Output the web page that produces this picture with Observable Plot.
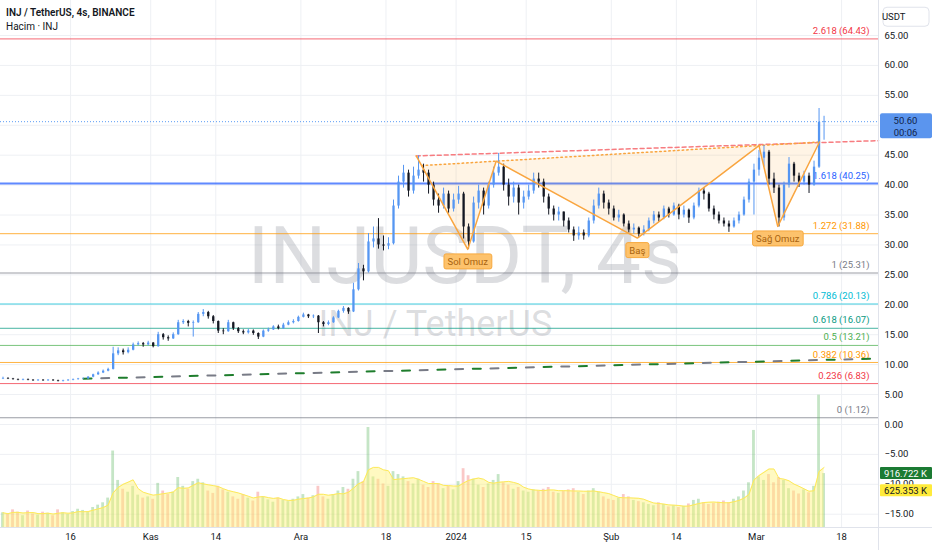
<!DOCTYPE html>
<html><head><meta charset="utf-8">
<script src="https://cdn.jsdelivr.net/npm/d3@7"></script>
<script src="https://cdn.jsdelivr.net/npm/@observablehq/plot@0.6"></script>
<style>
html,body{margin:0;padding:0;background:#fff;}
#wrap{position:relative;width:932px;height:550px;overflow:hidden;font-family:Roboto,"Noto Sans",sans-serif;background:#fff;}
#wrap svg{position:absolute;left:0;top:0;}
#hdr{position:absolute;left:6px;top:6px;font-size:10px;color:#131722;line-height:14px;z-index:5;}
.vsep{position:absolute;left:878px;top:0;width:1px;height:550px;background:#e0e3eb;z-index:4;}
.hsep{position:absolute;left:0;top:527px;width:932px;height:1px;background:#e0e3eb;z-index:4;}
</style></head><body>
<div id="wrap">
  <div id="hdr"><div style="font-weight:600">INJ / TetherUS, 4s, BINANCE</div><div>Hacim · INJ</div></div>
</div>
<script>
// ---------------- data ----------------
const startDate = "2023-10-02T00:00:00Z";
const xDomainEnd = "2024-03-25T09:00:00Z";
const firstOpen = 7.6;
const closes = [
7.7,7.6,7.5,7.4,7.5,7.4,7.3,7.4,7.3,7.4,
7.3,7.2,7.3,7.4,7.5,7.6,7.6,7.9,8.3,8.6,
8.9,9.2,11.8,12.3,12.0,12.4,13.3,13.5,13.3,13.6,
13.0,15.0,14.5,14.3,15.0,17.0,17.2,16.9,17.0,18.4,
18.7,18.0,17.2,15.6,15.5,17.0,16.0,15.5,15.3,15.6,
15.2,14.6,15.6,15.8,16.3,16.0,16.6,17.0,17.2,17.9,
18.3,18.0,18.1,17.0,16.7,17.0,17.8,18.9,19.4,18.8,
22.5,26.0,25.5,30.5,31.0,30.0,29.8,30.2,36.5,40.5,
42.0,39.0,41.5,42.5,42.0,40.0,37.5,36.5,38.5,36.0,
37.5,38.5,33.0,30.5,37.0,39.0,36.5,40.0,42.0,43.0,
40.0,38.0,39.5,37.0,38.0,39.0,41.0,40.5,38.0,36.0,
35.0,35.5,34.0,32.5,31.5,32.0,31.5,34.0,36.5,38.5,
37.0,36.0,34.5,35.0,33.5,32.5,32.8,31.8,32.5,34.0,
35.0,34.5,36.0,35.0,36.5,35.0,35.8,34.5,36.5,39.0,
38.5,36.0,35.0,34.0,33.5,33.0,34.0,35.0,37.5,40.5,
42.5,44.5,45.5,41.0,39.5,34.5,40.0,43.5,41.5,40.5,
41.5,40.0,43.0,50.5,50.6];
const highs = [
7.9,7.8,7.7,7.6,7.6,7.6,7.5,7.5,7.5,7.5,
7.5,7.4,7.4,7.5,7.6,7.7,7.8,8.0,8.4,8.8,
9.1,9.4,12.9,12.8,12.6,12.8,13.6,13.8,13.7,13.9,
13.7,15.4,15.2,14.8,15.3,17.4,17.5,17.4,17.3,18.7,
19.2,18.9,18.2,17.3,16.0,17.4,17.1,16.2,15.8,15.9,
15.8,15.3,15.8,16.1,16.5,16.6,16.9,17.3,17.5,18.1,
18.6,18.4,18.3,18.2,17.2,17.3,18.0,19.1,19.7,19.5,
23.6,26.9,26.6,31.9,33.0,34.4,31.5,31.2,37.5,41.5,
43.3,42.5,43.0,44.9,43.5,42.5,40.5,38.5,39.5,39.0,
38.5,39.8,38.8,33.5,38.0,40.0,39.5,40.5,43.0,45.3,
43.5,41.0,40.5,40.0,39.0,40.0,42.0,42.0,41.0,38.5,
36.5,36.3,35.5,34.5,33.0,33.0,32.5,34.5,37.5,39.5,
39.0,37.5,36.5,35.8,35.2,34.0,33.5,33.0,33.2,34.5,
35.6,35.5,36.5,36.3,37.0,36.8,36.5,36.0,37.0,39.5,
39.6,38.8,36.5,35.5,34.5,34.0,34.5,35.5,38.0,41.0,
43.5,45.8,46.6,45.8,42.0,40.0,40.5,44.6,43.8,42.0,
42.3,42.0,44.0,52.8,51.5];
const lows = [
7.5,7.5,7.4,7.3,7.3,7.3,7.2,7.2,7.2,7.2,
7.2,7.1,7.1,7.2,7.3,7.4,7.5,7.5,7.8,8.2,
8.5,8.8,9.1,11.5,11.6,11.8,12.3,13.1,12.9,13.1,
12.8,12.9,14.1,13.9,14.2,14.9,16.7,16.3,14.6,16.9,
18.0,17.6,16.8,15.2,15.0,15.4,15.7,15.2,15.0,15.1,
14.9,14.2,14.5,15.4,15.7,15.8,15.9,16.5,16.8,17.1,
17.8,17.7,17.7,15.2,16.3,16.5,16.9,17.7,18.6,18.4,
18.7,22.3,24.0,25.3,29.5,29.3,29.0,29.2,30.0,36.0,
39.5,38.0,38.5,41.0,40.5,38.5,36.5,35.3,36.0,35.3,
35.5,36.8,31.0,29.3,30.3,36.0,35.0,36.0,39.5,41.5,
39.0,36.5,37.0,35.0,36.0,37.5,38.5,39.5,37.0,35.0,
34.0,34.0,33.0,32.0,30.6,30.8,30.8,31.2,33.5,36.0,
36.0,35.0,34.0,33.8,33.0,32.0,31.8,31.2,31.5,32.2,
33.5,33.8,34.2,34.5,34.8,34.2,34.5,33.6,34.2,36.2,
37.5,35.5,34.2,33.5,33.0,32.1,32.8,33.5,34.8,37.0,
35.0,41.5,43.0,40.0,38.6,33.0,34.0,39.5,40.5,39.6,
40.0,38.6,39.8,42.8,47.5];
const volumesK = [
250,220,300,260,200,280,230,210,260,240,200,300,250,220,270,310,290,260,340,380,420,
500,1300,800,650,600,700,550,500,520,
480,750,620,560,600,850,700,650,780,820,760,620,580,700,640,600,
520,480,560,500,450,600,520,470,430,500,460,440,480,520,
560,500,540,700,520,480,560,620,680,650,
820,950,780,1700,860,820,740,700,950,900,860,780,740,820,720,680,780,740,660,700,640,780,
1000,880,820,720,680,740,800,900,760,720,650,680,620,600,640,620,650,680,600,
580,620,640,660,600,560,620,660,600,520,480,460,500,560,520,460,440,420,390,370,420,390,350,370,340,360,400,460,480,420,390,410,430,450,420,480,520,
620,760,1650,860,800,900,760,850,800,660,620,570,640,590,700,2250,916.722];

const priceTicks = [-15,-10,-5,0,5,10,15,20,25,30,35,40,45,50,55,60,65];
const xTickDates = ["2023-10-16","2023-11-01","2023-11-14","2023-12-01","2023-12-18","2024-01-01","2024-01-15","2024-02-01","2024-02-14","2024-03-01","2024-03-18"];
const xTickLabels = ["16","Kas","14","Ara","18","2024","15","Şub","14","Mar","18"];

const fibLevels = ["2.618","1.618","1.272","1","0.786","0.618","0.5","0.382","0.236","0"];
const fibPrices = [64.43,40.25,31.88,25.31,20.13,16.07,13.21,10.36,6.83,1.12];

const patternDates = ["2023-12-24T01:00:00Z","2024-01-03T08:00:00Z","2024-01-09T00:00:00Z","2024-02-06T05:00:00Z","2024-03-01T12:00:00Z","2024-03-05T06:00:00Z","2024-03-13T14:00:00Z"];
const patternPrices = [44.87,29.26,44.0,31.15,46.6,33.1,47.2];
const patternLabels = ["","Sol Omuz","","Baş","","Sağ Omuz",""];
const necklineStartDate = "2023-12-25T03:00:00Z";
const necklineStartPrice = 43.26;

const breakoutDates = ["2023-12-24T01:00:00Z", xDomainEnd];
const breakoutPrices = [44.87, 47.43];
const trendDates = ["2023-10-18T14:00:00Z", xDomainEnd];
const trendPrices = [7.64, 11.02];

const lastPrice = 50.60;
const countdown = "00:06";
const lastVolume = 916.722;
const maVolume = 625.353;

// ---------------- styles ----------------
const fibColors = ["#f23645","#2962ff","#ff9800","#787b86","#00bcd4","#089981","#4caf50","#ff9800","#f23645","#787b86"];
const upColor = "#5596f2", downColor = "#131722";
const orange = "#f9a53f";
const FONT = "Roboto, 'Noto Sans', sans-serif";

// ---------------- build tables ----------------
const t0 = new Date(startDate);
const xEnd = new Date(xDomainEnd);
const candles = closes.map((c, i) => {
  const day = d3.utcDay.offset(t0, i);
  const open = i ? closes[i - 1] : firstOpen;
  return {day, next: d3.utcDay.offset(day, 1), date: d3.utcHour.offset(day, 12),
          open, close: c, high: highs[i], low: lows[i], vol: volumesK[i], up: c >= open};
});
const fibs = fibLevels.map((l, i) => ({level: l, price: fibPrices[i], color: fibColors[i]}));
const pts = patternDates.map((d, i) => ({date: new Date(d), price: patternPrices[i], label: patternLabels[i]}));
const P2 = pts[2], P4 = pts[4];
const neck = (t) => P2.price + (P4.price - P2.price) * (t - P2.date) / (P4.date - P2.date);
const areaPts = [{date: new Date(necklineStartDate), price: necklineStartPrice}, ...pts.slice(1)]
  .map(d => ({...d, neck: neck(d.date)}));
const neckPts = [areaPts[0], areaPts[areaPts.length - 1]];
const breakout = breakoutDates.map((d, i) => ({date: new Date(d), price: breakoutPrices[i]}));
const trend = trendDates.map((d, i) => ({date: new Date(d), price: trendPrices[i]}));
const xTicks = xTickDates.map(d => new Date(d + "T00:00:00Z"));
const labelMap = new Map(xTicks.map((d, i) => [+d, xTickLabels[i]]));

const common = {
  width: 932, height: 550, marginLeft: 0, marginRight: 54, marginTop: 0, marginBottom: 23,
  x: {type: "utc", domain: [t0, xEnd]},
};

// ---------------- price plot ----------------
const pricePlot = Plot.plot({
  ...common,
  y: {domain: [-17.22, 70.85], label: null},
  style: {fontFamily: FONT, fontSize: "9.5px", background: "#fff", color: "#131722", overflow: "visible"},
  marks: [
    Plot.ruleY(priceTicks, {stroke: "#eef0f4", strokeWidth: 1}),
    Plot.ruleX(xTicks, {stroke: "#eef0f4", strokeWidth: 1}),
    Plot.text(["INJUSDT, 4s"], {frameAnchor: "top-left", dx: 247, dy: 226, text: d => d, fontSize: 80, textAnchor: "start", fill: "#787b86", fillOpacity: 0.26}),
    Plot.text(["INJ / TetherUS"], {frameAnchor: "top-left", dx: 318, dy: 310, text: d => d, fontSize: 36, textAnchor: "start", fill: "#787b86", fillOpacity: 0.26}),
    Plot.ruleY(fibs, {y: "price", stroke: "color", strokeOpacity: 0.75, strokeWidth: d => d.level === "1.618" ? 2 : 1}),
    Plot.text(fibs, {x: () => xEnd, y: "price", text: d => `${d.level} (${d.price.toFixed(2)})`, textAnchor: "end", dx: -9, dy: -8, fill: "color", fontSize: 9.5}),
    Plot.line(trend, {x: "date", y: "price", stroke: "#1e7d2c", strokeWidth: 2, strokeDasharray: "8,27.4"}),
    Plot.line(trend, {x: "date", y: "price", stroke: "#787b86", strokeWidth: 2, strokeDasharray: "8,27.4", strokeDashoffset: 17.7}),
    Plot.ruleY([lastPrice], {stroke: "#5b9cf6", strokeDasharray: "1,2", strokeWidth: 1}),
    Plot.areaY(areaPts, {x: "date", y1: "price", y2: "neck", fill: "#ff9800", fillOpacity: 0.1, curve: "linear"}),
    Plot.line(breakout, {x: "date", y: "price", stroke: "#f77c80", strokeWidth: 1.5, strokeDasharray: "4,3"}),
    Plot.line(neckPts, {x: "date", y: "price", stroke: orange, strokeWidth: 1.5, strokeDasharray: "1.5,3"}),
    Plot.ruleX(candles, {x: "date", y1: "low", y2: "high", stroke: d => d.up ? upColor : downColor, strokeWidth: 1}),
    Plot.ruleX(candles, {x: "date", y1: "open", y2: "close", stroke: d => d.up ? upColor : downColor, strokeWidth: 2.3}),
    Plot.line(pts, {x: "date", y: "price", stroke: orange, strokeWidth: 1.5}),
    Plot.text(pts.filter(d => d.label), {x: "date", y: "price", text: "label", dy: 12.5, fill: "#a8620f", fontSize: 9.5}),
    Plot.axisY(priceTicks, {anchor: "right", tickSize: 0, tickPadding: 6, label: null, tickFormat: d3.format(".2f"), fontSize: 9.5}),
    Plot.axisX(xTicks, {anchor: "bottom", tickSize: 0, tickPadding: 6, label: null, tickFormat: d => labelMap.get(+d), fontSize: 9.5}),
    Plot.text([lastPrice], {x: () => xEnd, y: d => d, text: d => d.toFixed(2), dx: 27, dy: -1, fill: "#10234a", fontSize: 9.5}),
    Plot.text([lastPrice], {x: () => xEnd, y: d => d, text: () => countdown, dx: 27, dy: 11, fill: "#10234a", fontSize: 9.5}),
    Plot.text(["USDT"], {frameAnchor: "top-right", dx: 27, dy: 13, text: d => d, fontSize: 9.5, fill: "#131722"})
  ]
});

// ---------------- volume plot ----------------
const volPlot = Plot.plot({
  ...common,
  x: {...common.x, axis: null},
  y: {domain: [0, 1000], range: [527, 527 - 1000 / 17], axis: null},
  style: {fontFamily: FONT, fontSize: "9.5px", background: "transparent", overflow: "visible"},
  marks: [
    Plot.rect(candles, {x1: "day", x2: "next", y1: 0, y2: "vol", insetLeft: 1.1, insetRight: 1.1,
      fill: d => d.up ? "#66bb6a" : "#ef5350", fillOpacity: d => d.up ? 0.38 : 0.32}),
    Plot.areaY(candles, Plot.windowY({k: 5, anchor: "end"}, {x: "date", y: "vol", fill: "#fff176", fillOpacity: 0.45})),
    Plot.lineY(candles, Plot.windowY({k: 5, anchor: "end"}, {x: "date", y: "vol", stroke: "#fde95a", strokeWidth: 1})),
    Plot.text([lastVolume], {x: () => xEnd, y: d => d, text: d => d.toFixed(3) + " K", dx: 27, fill: "#ffffff", fontSize: 9.5}),
    Plot.text([maVolume], {x: () => xEnd, y: d => d, text: d => d.toFixed(3) + " K", dx: 27, fill: "#131722", fontSize: 9.5})
  ]
});

const wrap = document.getElementById("wrap");
wrap.insertBefore(pricePlot, wrap.firstChild);
wrap.insertBefore(volPlot, pricePlot.nextSibling);
const sep1 = document.createElement("div"); sep1.className = "vsep"; wrap.appendChild(sep1);
const sep2 = document.createElement("div"); sep2.className = "hsep"; wrap.appendChild(sep2);

// ---------------- label boxes ----------------
const NS = "http://www.w3.org/2000/svg";
function addBox(svg, txt, o) {
  const sr = svg.getBoundingClientRect();
  const nodes = Array.from(svg.querySelectorAll("text")).filter(t => t.textContent === txt);
  for (const t of nodes) {
    const r = t.getBoundingClientRect();
    const cx = r.left - sr.left + r.width / 2, cy = r.top - sr.top + r.height / 2;
    const w = o.x0 != null ? o.x1 - o.x0 : r.width + 2 * o.px;
    const x = o.x0 != null ? o.x0 : cx - w / 2;
    const h = o.h != null ? o.h : r.height + 2 * o.py;
    const y = o.top != null ? cy - o.top : cy - h / 2;
    const rect = document.createElementNS(NS, "rect");
    rect.setAttribute("x", x); rect.setAttribute("y", y);
    rect.setAttribute("width", w); rect.setAttribute("height", h);
    rect.setAttribute("rx", o.rx || 2);
    rect.setAttribute("fill", o.fill);
    if (o.stroke) { rect.setAttribute("stroke", o.stroke); rect.setAttribute("stroke-width", 1); }
    let top = t; while (top.parentNode && top.parentNode !== svg) top = top.parentNode;
    svg.insertBefore(rect, top);
  }
}
for (const l of patternLabels.filter(Boolean))
  addBox(pricePlot, l, {px: 3.5, h: 15, fill: "#fdc26c", stroke: "#f7a93f", rx: 2});
addBox(pricePlot, lastPrice.toFixed(2), {x0: 880, x1: 932, h: 25, top: 7, fill: "#5b95ee", rx: 2});
addBox(pricePlot, "USDT", {x0: 883, x1: 929, h: 19, fill: "#ffffff", stroke: "#e0e3eb", rx: 4});
addBox(volPlot, lastVolume.toFixed(3) + " K", {x0: 880, x1: 932, h: 12, fill: "#1b7a33", rx: 1});
addBox(volPlot, maVolume.toFixed(3) + " K", {x0: 880, x1: 932, h: 12, fill: "#ffeb3b", rx: 1});
</script>
</body></html>
